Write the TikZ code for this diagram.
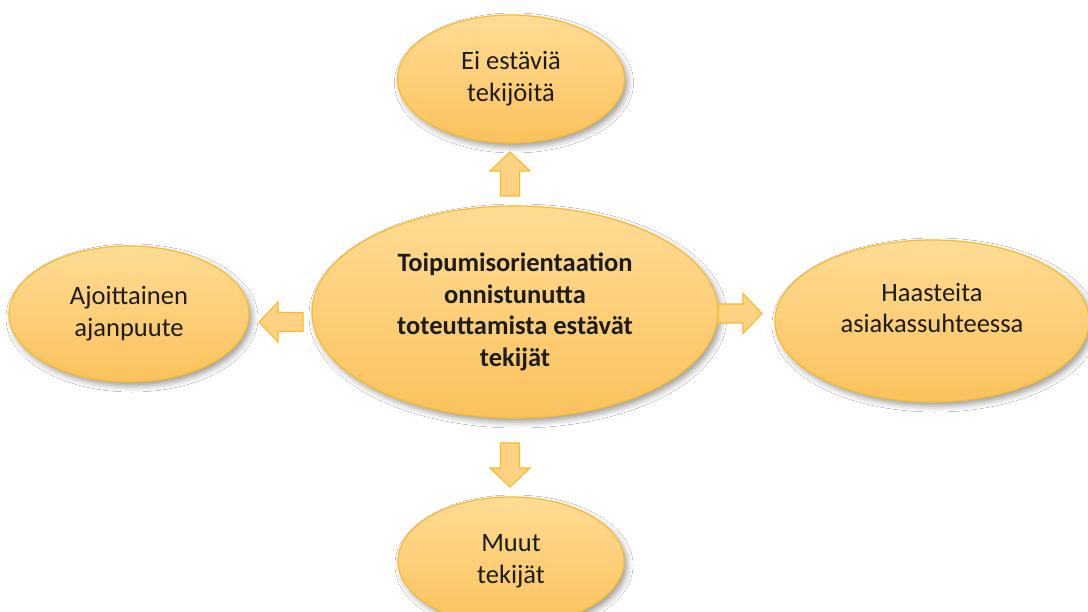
\documentclass[tikz,border=0pt]{standalone}
\usepackage{fontspec}
\setmainfont{Carlito}
\usetikzlibrary{shapes.geometric,shadows.blur}
\definecolor{ringc}{HTML}{F7BC2E}
\definecolor{topc}{HTML}{FFDC95}
\definecolor{botc}{HTML}{FAC25C}
\definecolor{arrfill}{HTML}{FDD283}
\definecolor{txtc}{HTML}{1C1C1C}
\begin{document}
\begin{tikzpicture}[x=1pt,y=-1pt,
  bubble/.style={ellipse, draw=ringc, line width=1.2pt, top color=topc, bottom color=botc,
    inner sep=0pt, align=center, text=txtc, font=\fontsize{26.5}{31.7}\selectfont,
    blur shadow={shadow xshift=3pt, shadow yshift=-4pt, shadow blur radius=6pt, shadow opacity=40}},
  lbl/.style={align=center, text=txtc, inner sep=0pt, font=\fontsize{26.5}{31.7}\selectfont},
  arrowstyle/.style={draw=ringc, line width=1.2pt, fill=arrfill, line join=miter},
  barrow/.pic={\draw[arrowstyle] (0,-9.5)--(25,-9.5)--(25,-20)--(44,0)--(25,20)--(25,9.5)--(0,9.5)--cycle;}
]
\useasboundingbox (0,0) rectangle (1088,612);
\fill[white] (0,0) rectangle (1088,612);

\node[bubble, minimum width=227pt, minimum height=128pt] (top) at (511,79) {Ei estäviä\\tekijöitä};
\node[bubble, minimum width=406pt, minimum height=212pt, font=\fontsize{26.5}{31.7}\selectfont\bfseries] (mid) at (515,312)
  {Toipumisorientaation\\onnistunutta\\toteuttamista estävät\\tekijät};
\node[bubble, minimum width=240pt, minimum height=136pt] (left) at (129,314) {Ajoittainen\\ajanpuute};
\node[bubble, minimum width=314pt, minimum height=162pt] (right) at (932,321) {};
\node[lbl] (rightlbl) at ([yshift=13pt]right.center) {Haasteita\\asiakassuhteessa};
\node[bubble, minimum width=226pt, minimum height=128pt] (bottom) at (511,561) {Muut\\tekijät};

\pic at (718,313.5) {barrow};
\pic[rotate=180] at (303,322) {barrow};
\pic[rotate=90] at (510,196) {barrow};
\pic[rotate=-90] at (510,443) {barrow};
\end{tikzpicture}
\end{document}
